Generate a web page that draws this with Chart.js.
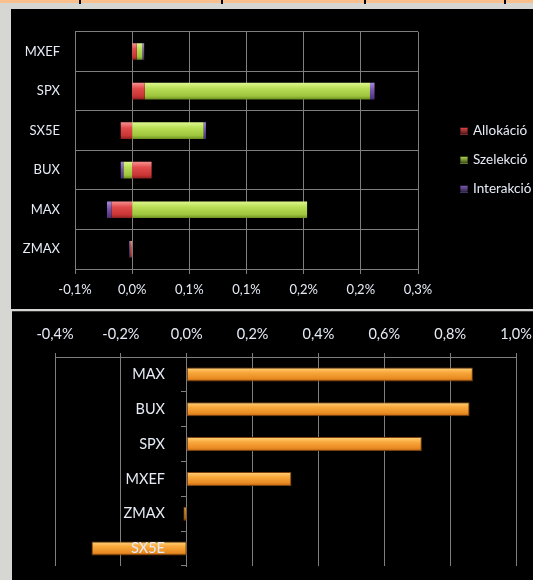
<!DOCTYPE html>
<html>
<head>
<meta charset="utf-8">
<script src="https://cdn.jsdelivr.net/npm/chart.js@4.4.1/dist/chart.umd.min.js"></script>
<style>
    body { margin: 0; width: 533px; height: 580px; overflow: hidden; background: #d6d6d2; font-family: Lato, sans-serif; position: relative; }
    #strip { position: absolute; left: 0; top: 0; width: 533px; height: 3px; background: #f9c08e; }
    #strip span { position: absolute; top: 0; width: 2px; height: 4px; background: #000; }
    #topPanel { position: absolute; left: 11px; top: 9px; width: 522px; height: 300px; background: #000; overflow: hidden; }
    #bottomPanel { position: absolute; left: 12px; top: 311px; width: 521px; height: 269px; background: #000; overflow: hidden; border-top: 1px solid #3a3a3a; box-sizing: border-box; }
    #bottomPanel canvas { margin-top: -1px; }
    canvas { display: block; }
    #legend { position: absolute; left: 449px; top: 113px; color: #e6ecf6; font-size: 13.5px; white-space: nowrap; }
    #legend div { height: 29px; line-height: 17px; }
    #legend i { display: inline-block; width: 8px; height: 8px; margin-right: 5px; vertical-align: 0px; border: 1px solid rgba(0,0,0,0.4); box-sizing: border-box; }
</style>
</head>
<body>
<div id="strip"><span style="left:79px"></span><span style="left:221px"></span><span style="left:364px"></span><span style="left:504px"></span></div>
<div id="topPanel">
    <canvas id="attributionChart" width="522" height="300"></canvas>
    <div id="legend"></div>
</div>
<div id="bottomPanel">
    <!-- wider than the panel so the last tick label gets clipped like the original -->
    <canvas id="excessChart" width="560" height="269"></canvas>
</div>
<script>
// Attribution (top chart), values in %
const attrCategories = ['MXEF', 'SPX', 'SX5E', 'BUX', 'MAX', 'ZMAX'];
const allocation = [0.004, 0.011, -0.010, 0.017, -0.018, -0.0012];
const selection = [0.005, 0.197, 0.0625, -0.0075, 0.153, -0.0003];
const interaction = [0.0015, 0.004, 0.002, -0.0025, -0.004, -0.001];
const attrTicks = ['-0,1%', '0,0%', '0,1%', '0,1%', '0,2%', '0,2%', '0,3%'];

// Excess return (bottom chart), values in %
const excessCategories = ['MAX', 'BUX', 'SPX', 'MXEF', 'ZMAX', 'SX5E'];
const excessReturn = [0.869, 0.859, 0.714, 0.318, -0.01, -0.289];
const excessTicks = ['-0,4%', '-0,2%', '0,0%', '0,2%', '0,4%', '0,6%', '0,8%', '1,0%'];

const textColor = '#e6ecf6';
const gridColor = '#7f7f7f';

// shiny Excel-like bar fill, vertical gradient across each bar
function barFill(stops, ratio) {
    return (ctx) => {
        const chart = ctx.chart;
        const yScale = chart.scales.y;
        if (ctx.type !== 'data' || !yScale || !chart.chartArea) return stops[1][1];
        const half = yScale.height / chart.data.labels.length * ratio / 2;
        const c = yScale.getPixelForValue(ctx.dataIndex);
        const g = chart.ctx.createLinearGradient(0, c - half, 0, c + half);
        stops.forEach(s => g.addColorStop(s[0], s[1]));
        return g;
    };
}

const redStops = [[0, '#f79090'], [0.35, '#e04a4a'], [0.8, '#c93535'], [1, '#8e2020']];
const greenStops = [[0, '#def78e'], [0.35, '#b7de55'], [0.8, '#9dc43c'], [1, '#6c8e22']];
const purpleStops = [[0, '#a88ada'], [0.4, '#7a58b0'], [1, '#48307a']];
const orangeStops = [[0, '#ffd47e'], [0.35, '#f9a93c'], [0.8, '#e88a22'], [1, '#b45e12']];

const attrChart = new Chart(document.getElementById('attributionChart'), {
    type: 'bar',
    data: {
        labels: attrCategories,
        datasets: [
            { label: 'Allokáció', data: allocation, backgroundColor: barFill(redStops, 0.42), legendColor: '#d84444' },
            { label: 'Szelekció', data: selection, backgroundColor: barFill(greenStops, 0.42), legendColor: '#a8d048' },
            { label: 'Interakció', data: interaction, backgroundColor: barFill(purpleStops, 0.42), legendColor: '#7a58b0' }
        ]
    },
    options: {
        indexAxis: 'y',
        responsive: false,
        animation: false,
        layout: { padding: { top: 17, right: 115, bottom: 0, left: 0 } },
        datasets: { bar: { barPercentage: 0.42, categoryPercentage: 1, borderWidth: 0 } },
        plugins: { legend: { display: false }, tooltip: { enabled: false } },
        scales: {
            x: {
                stacked: true,
                min: -0.05,
                max: 0.25,
                ticks: {
                    stepSize: 0.05,
                    color: textColor,
                    font: { family: 'Lato', size: 13 },
                    padding: 8,
                    callback: (v, i) => attrTicks[i]
                },
                grid: { color: gridColor, tickLength: 5 },
                border: { color: gridColor },
                afterFit: s => { s.height = 40; }
            },
            y: {
                stacked: true,
                ticks: { color: textColor, font: { family: 'Lato', size: 13 }, padding: 15 },
                grid: { color: gridColor, drawTicks: false },
                border: { color: gridColor },
                afterFit: s => { s.width = 64; }
            }
        }
    }
});

// HTML legend (the original is clipped at the panel edge)
document.getElementById('legend').innerHTML = attrChart.data.datasets.map(ds =>
    `<div><i style="background: linear-gradient(${ds.legendColor}, #000 160%)"></i>${ds.label}</div>`
).join('');

new Chart(document.getElementById('excessChart'), {
    type: 'bar',
    data: {
        labels: excessCategories,
        datasets: [{
            label: 'Többlethozam',
            data: excessReturn,
            backgroundColor: barFill(orangeStops, 0.4),
            borderColor: '#7a420e',
            borderWidth: 1,
            borderSkipped: false
        }]
    },
    options: {
        indexAxis: 'y',
        responsive: false,
        animation: false,
        layout: { padding: { top: 0, right: 56, bottom: 14, left: 43 } },
        datasets: { bar: { barPercentage: 0.4, categoryPercentage: 1 } },
        plugins: { legend: { display: false }, tooltip: { enabled: false } },
        scales: {
            x: {
                position: 'top',
                min: -0.4,
                max: 1.0,
                ticks: {
                    stepSize: 0.2,
                    color: textColor,
                    font: { family: 'Lato', size: 14.5 },
                    padding: 10,
                    callback: (v, i) => excessTicks[i]
                },
                grid: { color: gridColor, tickLength: 4 },
                border: { color: gridColor },
                afterFit: s => { s.height = 46; }
            },
            y: {
                position: { x: 0 },
                ticks: {
                    z: 1, // labels on top of the bars, like SX5E in the original
                    color: textColor,
                    font: { family: 'Lato', size: 14.5 },
                    // axis at zero puts labels flush with the line; keep a gap
                    callback: (v, i) => excessCategories[i] + '\u2003\u2003'
                },
                grid: { color: gridColor, drawOnChartArea: false, tickLength: 5 },
                border: { color: gridColor }
            }
        }
    }
});
</script>
</body>
</html>
